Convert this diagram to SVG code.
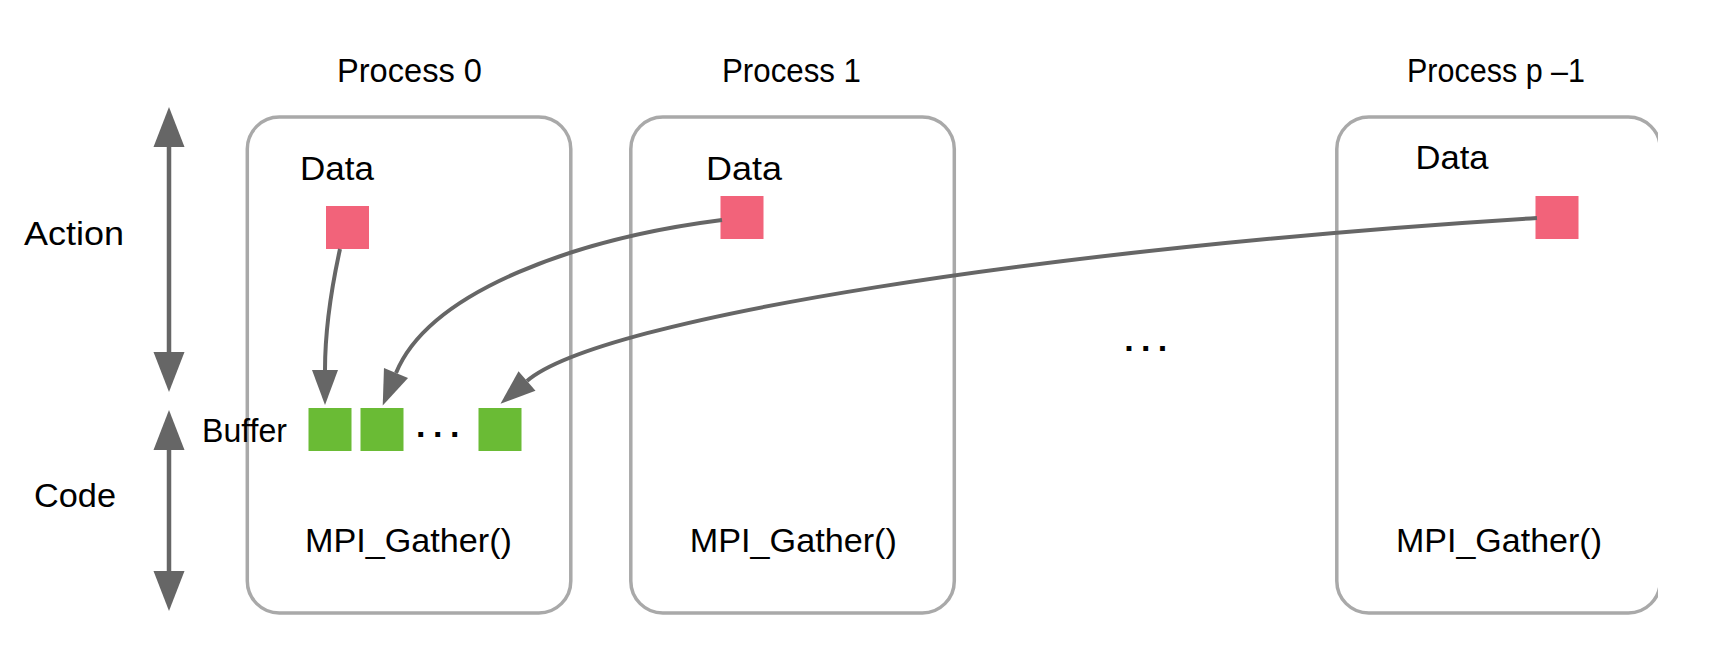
<svg xmlns="http://www.w3.org/2000/svg" width="1730" height="646" viewBox="0 0 1730 646">
  <style>
    .t { font-family: "Liberation Sans", Arial, Helvetica, sans-serif; font-size: 34px; fill: #000; }
    .dots { font-weight: bold; }
    .box { fill: #fff; stroke: #a9a9a9; stroke-width: 3.5; }
    .data { fill: #f2637a; }
    .buf { fill: #6abb35; }
    .conn { fill: none; stroke: #666; stroke-width: 4; }
    .axis { fill: none; stroke: #666; stroke-width: 4.5; }
  </style>
  <defs>
    <marker id="head" markerUnits="userSpaceOnUse" viewBox="0 -13 35 26" refX="0" refY="0" markerWidth="35" markerHeight="26" orient="auto" overflow="visible">
      <path d="M0,-13 L35,0 L0,13 Z" fill="#666"/>
    </marker>
    <marker id="bighead" markerUnits="userSpaceOnUse" viewBox="0 -15.5 40 31" refX="0" refY="0" markerWidth="40" markerHeight="31" orient="auto-start-reverse" overflow="visible">
      <path d="M0,-15.5 L40,0 L0,15.5 Z" fill="#666"/>
    </marker>
    <clipPath id="clipRight">
      <rect x="0" y="0" width="1658" height="646"/>
    </clipPath>
  </defs>
  <rect x="0" y="0" width="1730" height="646" fill="#fff"/>

  <g id="axis-action">
    <line class="axis" x1="169" y1="147" x2="169" y2="352" marker-start="url(#bighead)" marker-end="url(#bighead)"/>
    <text class="t" x="24" y="245" textLength="100" lengthAdjust="spacingAndGlyphs">Action</text>
  </g>
  <g id="axis-code">
    <line class="axis" x1="169" y1="450" x2="169" y2="571" marker-start="url(#bighead)" marker-end="url(#bighead)"/>
    <text class="t" x="34" y="507" textLength="82" lengthAdjust="spacingAndGlyphs">Code</text>
  </g>

  <g id="process0">
    <text class="t" x="409.5" y="82" text-anchor="middle" textLength="145" lengthAdjust="spacingAndGlyphs">Process 0</text>
    <rect class="box" x="247.3" y="117" width="323.5" height="496" rx="32" ry="32"/>
    <text class="t" x="300" y="180" textLength="74" lengthAdjust="spacingAndGlyphs">Data</text>
    <rect class="data" x="326" y="206" width="43" height="43"/>
    <text class="t" x="202" y="442" textLength="85" lengthAdjust="spacingAndGlyphs">Buffer</text>
    <rect class="buf" x="308.5" y="408" width="43" height="43"/>
    <rect class="buf" x="360.5" y="408" width="43" height="43"/>
    <text class="t dots" x="416" y="437" letter-spacing="7.5">...</text>
    <rect class="buf" x="478.5" y="408" width="43" height="43"/>
    <text class="t" x="408.5" y="552" text-anchor="middle" textLength="207" lengthAdjust="spacingAndGlyphs">MPI_Gather()</text>
  </g>

  <g id="process1">
    <text class="t" x="791.5" y="82" text-anchor="middle" textLength="139" lengthAdjust="spacingAndGlyphs">Process 1</text>
    <rect class="box" x="630.8" y="117" width="323.5" height="496" rx="32" ry="32"/>
    <text class="t" x="706" y="180" textLength="76" lengthAdjust="spacingAndGlyphs">Data</text>
    <rect class="data" x="720.5" y="196" width="43" height="43"/>
    <text class="t" x="793.3" y="552" text-anchor="middle" textLength="207" lengthAdjust="spacingAndGlyphs">MPI_Gather()</text>
  </g>

  <g id="ellipsis">
    <text class="t dots" x="1124.3" y="351" letter-spacing="7.3">...</text>
  </g>

  <g id="processP" clip-path="url(#clipRight)">
    <text class="t" x="1496" y="82" text-anchor="middle" textLength="178" lengthAdjust="spacingAndGlyphs">Process p –1</text>
    <rect class="box" x="1336.8" y="117" width="323.5" height="496" rx="32" ry="32"/>
    <text class="t" x="1415.6" y="169" textLength="73" lengthAdjust="spacingAndGlyphs">Data</text>
    <rect class="data" x="1535.5" y="196" width="43" height="43"/>
    <text class="t" x="1499" y="552" text-anchor="middle" textLength="206" lengthAdjust="spacingAndGlyphs">MPI_Gather()</text>
  </g>

  <g id="connectors">
    <path class="conn" d="M340,249 C331,290 325,330 325,370" marker-end="url(#head)"/>
    <path class="conn" d="M722,220 C580,238 430,290 396,373" marker-end="url(#head)"/>
    <path class="conn" d="M1537,218 C1050,248 600,318 527,381" marker-end="url(#head)"/>
  </g>
</svg>
